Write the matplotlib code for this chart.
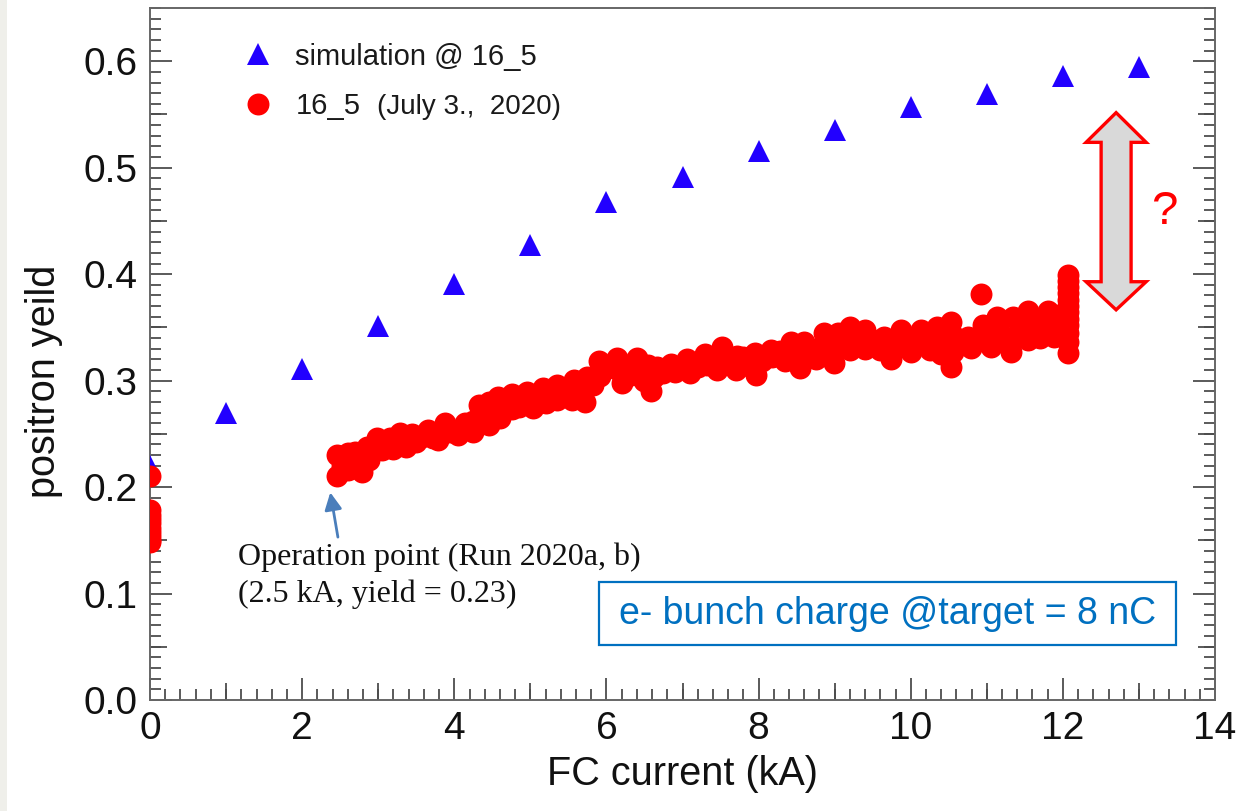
import matplotlib
matplotlib.use("Agg")
import matplotlib.pyplot as plt
from matplotlib.ticker import MultipleLocator, FormatStrFormatter, NullLocator
from matplotlib.patches import Polygon, Rectangle

plt.rcParams['font.family'] = ['Liberation Sans', 'DejaVu Sans']

# Simulated positron yield vs. flux-concentrator current
sim_current = [0, 1, 2, 3, 4, 5, 6, 7, 8, 9, 10, 11, 12, 13]
sim_yield = [0.220, 0.270, 0.311, 0.351, 0.391, 0.427, 0.468, 0.491,
             0.516, 0.535, 0.557, 0.569, 0.586, 0.595]

# Measured yield, 16_5 (July 3, 2020)
meas_current = [
    0.0, 0.0, 0.0, 0.0, 0.0, 0.0, 0.0, 0.0, 0.0, 0.0,
    2.46, 2.46, 2.53, 2.60, 2.60, 2.70, 2.70, 2.79, 2.85, 2.88,
    2.99, 3.05, 3.15, 3.20, 3.29, 3.36, 3.45, 3.50, 3.58, 3.66,
    3.72, 3.79, 3.88, 3.95, 4.05, 4.14, 4.25, 4.25, 4.32, 4.35,
    4.45, 4.45, 4.50, 4.57, 4.60, 4.62, 4.70, 4.76, 4.76, 4.85,
    4.88, 4.95, 5.04, 5.08, 5.17, 5.20, 5.27, 5.35, 5.35, 5.45,
    5.55, 5.57, 5.65, 5.72, 5.75, 5.82, 5.90, 5.92, 6.02, 6.14,
    6.15, 6.20, 6.28, 6.32, 6.40, 6.42, 6.50, 6.55, 6.58, 6.62,
    6.67, 6.75, 6.85, 6.90, 7.00, 7.06, 7.10, 7.20, 7.30, 7.32,
    7.46, 7.52, 7.52, 7.60, 7.70, 7.72, 7.80, 7.88, 7.95, 7.96,
    8.05, 8.16, 8.18, 8.28, 8.35, 8.42, 8.45, 8.55, 8.58, 8.60,
    8.70, 8.75, 8.86, 8.88, 8.99, 9.05, 9.05, 9.15, 9.20, 9.20,
    9.30, 9.40, 9.40, 9.50, 9.60, 9.65, 9.74, 9.76, 9.87, 9.90,
    10.00, 10.05, 10.13, 10.15, 10.26, 10.30, 10.35, 10.40, 10.45, 10.53,
    10.53, 10.55, 10.58, 10.66, 10.75, 10.79, 10.85, 10.92, 10.95, 11.00,
    11.05, 11.14, 11.18, 11.25, 11.32, 11.35, 11.38, 11.46, 11.54, 11.54,
    11.58, 11.70, 11.70, 11.80, 11.82, 11.88, 11.95, 11.95,
    12.07, 12.07, 12.07, 12.07, 12.07, 12.07, 12.07, 12.07, 12.07, 12.07,
    12.07, 12.07,
]
meas_yield = [
    0.210, 0.178, 0.174, 0.170, 0.166, 0.162, 0.158, 0.154, 0.150, 0.148,
    0.210, 0.230, 0.220, 0.216, 0.232, 0.233, 0.222, 0.214, 0.238, 0.225,
    0.246, 0.235, 0.246, 0.236, 0.251, 0.238, 0.250, 0.242, 0.247, 0.254,
    0.246, 0.244, 0.260, 0.252, 0.249, 0.260, 0.252, 0.262, 0.277, 0.266,
    0.258, 0.280, 0.270, 0.285, 0.265, 0.276, 0.281, 0.287, 0.273, 0.275,
    0.286, 0.289, 0.274, 0.283, 0.293, 0.279, 0.288, 0.296, 0.282, 0.290,
    0.282, 0.301, 0.292, 0.280, 0.303, 0.296, 0.318, 0.304, 0.312, 0.321,
    0.310, 0.298, 0.315, 0.305, 0.321, 0.310, 0.300, 0.315, 0.290, 0.303,
    0.313, 0.307, 0.316, 0.308, 0.313, 0.320, 0.307, 0.313, 0.325, 0.315,
    0.310, 0.332, 0.321, 0.318, 0.310, 0.323, 0.322, 0.314, 0.326, 0.305,
    0.318, 0.329, 0.322, 0.328, 0.318, 0.336, 0.326, 0.312, 0.324, 0.336,
    0.330, 0.320, 0.345, 0.331, 0.317, 0.345, 0.333, 0.338, 0.350, 0.329,
    0.341, 0.348, 0.330, 0.338, 0.329, 0.341, 0.320, 0.332, 0.348, 0.337,
    0.327, 0.340, 0.348, 0.336, 0.329, 0.341, 0.350, 0.325, 0.337, 0.355,
    0.313, 0.327, 0.341, 0.336, 0.341, 0.331, 0.340, 0.381, 0.352, 0.342,
    0.332, 0.360, 0.345, 0.336, 0.327, 0.360, 0.343, 0.350, 0.365, 0.338,
    0.351, 0.340, 0.358, 0.365, 0.352, 0.341, 0.362, 0.350,
    0.326, 0.336, 0.345, 0.352, 0.358, 0.364, 0.370, 0.376, 0.382, 0.388,
    0.394, 0.399,
]

fig = plt.figure(figsize=(12.39, 8.11), dpi=100)
fig.patches.append(Rectangle((0, 0), 7 / 1239, 1, transform=fig.transFigure,
                             facecolor='#efefea', edgecolor='none', zorder=-5))
ax = fig.add_axes([150 / 1239, 111 / 811, 1065 / 1239, 692 / 811])

sim_line, = ax.plot(sim_current, sim_yield, linestyle='none', marker='^',
                    markersize=16, color='#2200ff', markeredgewidth=0,
                    label='simulation @ 16_5', zorder=3)
meas_line, = ax.plot(meas_current, meas_yield, linestyle='none', marker='o',
                     markersize=15.8, color='#ff0000', markeredgewidth=0,
                     label='16_5', zorder=4)

ax.set_xlim(0, 14)
ax.set_ylim(0, 0.65)

spine_color = '#666666'
for s in ax.spines.values():
    s.set_color(spine_color)
    s.set_linewidth(1.4)

ax.xaxis.set_major_locator(MultipleLocator(2))
ax.xaxis.set_minor_locator(MultipleLocator(0.2))
ax.yaxis.set_major_locator(MultipleLocator(0.1))
ax.yaxis.set_minor_locator(MultipleLocator(0.01))
ax.yaxis.set_major_formatter(FormatStrFormatter('%.1f'))
ax.tick_params(which='both', direction='in', top=False, right=True,
               color='#4d4d4d', width=1.3)
ax.tick_params(which='major', length=16, labelsize=28, labelcolor='#111111')
ax.tick_params(axis='y', which='major', pad=9)
ax.tick_params(axis='x', which='major', pad=8)
ax.tick_params(which='minor', length=8)

# medium-length ticks at the half-way marks
secx = ax.secondary_xaxis('bottom')
secx.set_xticks([1, 3, 5, 7, 9, 11, 13])
secx.xaxis.set_minor_locator(NullLocator())
secx.tick_params(direction='in', length=12, width=1.3, color='#4d4d4d',
                 labelbottom=False)
secx.spines['bottom'].set_visible(False)
for side in ('left', 'right'):
    secy = ax.secondary_yaxis(side)
    secy.set_yticks([0.05, 0.15, 0.25, 0.35, 0.45, 0.55])
    secy.yaxis.set_minor_locator(NullLocator())
    secy.tick_params(direction='in', length=12, width=1.3, color='#4d4d4d',
                     labelleft=False, labelright=False)
    secy.spines[side].set_visible(False)

ax.set_xlabel('FC current (kA)', fontsize=28.5, color='#111111', labelpad=6)
ax.set_ylabel('positron yeild', fontsize=28.5, color='#111111')
ax.yaxis.set_label_coords(-0.082, 0.461)

# legend
leg = ax.legend(handles=[sim_line, meas_line], loc='upper left',
                bbox_to_anchor=(0.0878, 0.950), frameon=False, fontsize=21,
                handlelength=1.0, handletextpad=0.78, labelspacing=0.75,
                borderpad=0, borderaxespad=0)
for t in leg.get_texts():
    t.set_color('#1a1a1a')
ax.annotate('(July 3.,  2020)', xy=(1, 0), xycoords=leg.get_texts()[1],
            xytext=(12, 0), textcoords='offset points', ha='left', va='bottom',
            fontsize=20, color='#1a1a1a', zorder=10)

# operation point note
ax.annotate('', xy=(2.37, 0.195), xytext=(2.47, 0.153),
            arrowprops=dict(arrowstyle='-|>', color='#4a7ebb', lw=2,
                            mutation_scale=26, shrinkA=0, shrinkB=0))
serif = ['Liberation Serif', 'DejaVu Serif']
ax.text(1.16, 0.127, 'Operation point (Run 2020a, b)', fontsize=23,
        family=serif, color='#111111', va='baseline', ha='left')
ax.text(1.16, 0.0925, '(2.5 kA, yield = 0.23)', fontsize=23,
        family=serif, color='#111111', va='baseline', ha='left')

# bunch charge box
ax.add_patch(Rectangle((0.4216, 0.0795), 0.5418, 0.091, transform=ax.transAxes,
                       facecolor='white', edgecolor='#0070c0', lw=1.6, zorder=5))
ax.text(0.6925, 0.1243, 'e- bunch charge @target = 8 nC', transform=ax.transAxes,
        fontsize=27, color='#0070c0', ha='center', va='center', zorder=6)

# gap indicator: double-headed arrow with question mark
cx, hw, sw = 12.70, 0.395, 0.197
y_top, y_sh_top, y_sh_bot, y_bot = 0.5517, 0.5238, 0.3929, 0.3665
arrow_pts = [
    (cx, y_top), (cx + hw, y_sh_top), (cx + sw, y_sh_top), (cx + sw, y_sh_bot),
    (cx + hw, y_sh_bot), (cx, y_bot), (cx - hw, y_sh_bot), (cx - sw, y_sh_bot),
    (cx - sw, y_sh_top), (cx - hw, y_sh_top),
]
ax.add_patch(Polygon(arrow_pts, closed=True, facecolor='#d9d9d9',
                     edgecolor='#ff0000', lw=2.4, joinstyle='miter', zorder=5))
ax.text(13.33, 0.458, '?', fontsize=34, color='#ff0000', ha='center',
        va='center', zorder=6)

fig.savefig('out.png', dpi=100)
